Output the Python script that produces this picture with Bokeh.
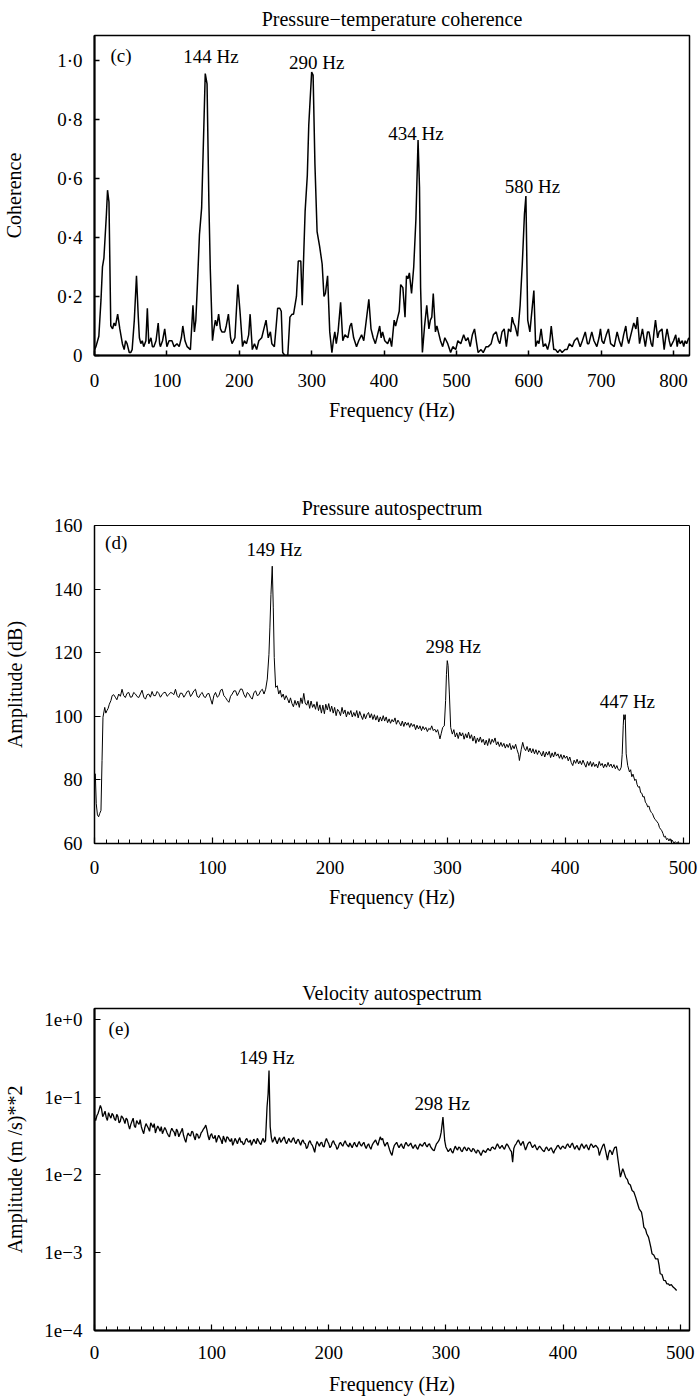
import numpy as np
from bokeh.plotting import figure
from bokeh.layouts import column
from bokeh.models import FixedTicker, CustomJSTickFormatter, Range1d
from bokeh.core.properties import value
from bokeh.embed import file_html
from bokeh.resources import INLINE

FONT = "Liberation Serif"

# ---------------- (c) Pressure-temperature coherence ----------------
coh_freq = [0, 2, 6, 9, 11, 13, 16.5, 18, 20, 22.5, 25, 27, 29, 32, 35, 38.5, 41, 43, 45, 48, 50, 52,
            55, 58, 60.5, 62, 64, 66, 68, 71, 73, 75, 78, 80, 82, 85, 88, 90, 91, 94, 97, 100, 103,
            107, 110, 114, 117, 120, 122, 125, 128, 132.5, 136, 138, 140, 142, 145, 148, 151, 153,
            155.5, 158, 160, 163, 165, 167, 169, 171.5, 174, 176, 180, 182, 185, 188, 190, 194, 198,
            201, 204.5, 207, 210, 213, 215, 218, 221, 224, 227, 231, 234, 237, 240, 243, 245, 248.5,
            251, 253, 256, 258, 260, 263, 267, 270, 273, 275, 279, 281.5, 285, 287, 288.5, 291, 294,
            296, 300, 302, 304.5, 307.5, 311, 314.5, 317, 319, 322, 325, 328, 330, 332, 334, 336.5,
            340, 343, 346, 350, 353, 355, 358, 362, 365, 369, 372, 375.5, 379, 382, 385, 388, 391,
            394, 396, 398, 401, 405, 408, 410.5, 414, 416, 419, 421, 423, 426, 429, 431, 433, 435,
            438, 441, 444, 447, 449, 450.5, 453, 456, 459, 462, 464, 466, 468, 471, 473, 475, 478,
            481, 484, 488, 492, 495, 499, 502, 506, 510, 513, 516, 519, 522, 525, 528, 530, 534,
            537, 541, 544, 548, 551, 555, 558, 560, 563, 566, 569, 572, 575, 577, 579, 581, 584.5,
            588, 591, 594, 596, 598.5, 601.5, 605, 607, 609.5, 612, 614, 617, 620, 623, 626, 629,
            631, 634.5, 637, 640, 643, 646, 650, 653, 656, 660, 663, 667, 671, 674, 678, 681, 683,
            687, 690, 694, 697, 699, 701, 703.5, 707, 710, 713, 718, 722, 725, 728, 731, 734, 736,
            738, 742, 745, 748, 750, 753, 757, 759, 761, 764, 766, 769, 771, 773, 775, 778, 780,
            784, 787, 789, 791, 794, 796, 800, 803, 805, 807, 809, 812, 814, 816, 818, 821]
coh_vals = [0.02, 0.03, 0.065, 0.19, 0.30, 0.33, 0.48, 0.56, 0.52, 0.10, 0.09, 0.11, 0.10, 0.14, 0.09,
            0.04, 0.02, 0.05, 0.04, 0.01, 0.01, 0.02, 0.12, 0.27, 0.13, 0.06, 0.04, 0.05, 0.03, 0.05,
            0.16, 0.04, 0.06, 0.03, 0.03, 0.05, 0.11, 0.04, 0.03, 0.05, 0.09, 0.03, 0.05, 0.05, 0.03,
            0.04, 0.03, 0.06, 0.10, 0.05, 0.03, 0.02, 0.17, 0.08, 0.12, 0.23, 0.41, 0.50, 0.77, 0.955,
            0.92, 0.52, 0.29, 0.05, 0.09, 0.12, 0.10, 0.14, 0.09, 0.08, 0.08, 0.10, 0.14, 0.06, 0.04,
            0.06, 0.24, 0.15, 0.03, 0.05, 0.04, 0.07, 0.14, 0.02, 0.04, 0.02, 0.05, 0.06, 0.09, 0.12,
            0.06, 0.08, 0.04, 0.03, 0.10, 0.16, 0.16, 0.15, 0.01, 0.0, 0.0, 0.13, 0.14, 0.14, 0.20,
            0.32, 0.32, 0.17, 0.30, 0.49, 0.61, 0.78, 0.96, 0.95, 0.65, 0.42, 0.37, 0.31, 0.20, 0.21,
            0.27, 0.08, 0.01, 0.05, 0.08, 0.04, 0.08, 0.18, 0.05, 0.07, 0.06, 0.10, 0.11, 0.06, 0.03,
            0.05, 0.07, 0.05, 0.12, 0.19, 0.09, 0.06, 0.04, 0.07, 0.10, 0.06, 0.08, 0.05, 0.04, 0.06,
            0.03, 0.12, 0.10, 0.13, 0.15, 0.24, 0.23, 0.13, 0.27, 0.26, 0.28, 0.21, 0.30, 0.46, 0.73,
            0.57, 0.23, 0.01, 0.10, 0.17, 0.09, 0.12, 0.13, 0.21, 0.08, 0.10, 0.08, 0.05, 0.03, 0.06,
            0.04, 0.01, 0.03, 0.02, 0.05, 0.04, 0.07, 0.05, 0.06, 0.03, 0.07, 0.09, 0.04, 0.01, 0.02,
            0.01, 0.03, 0.03, 0.04, 0.07, 0.08, 0.05, 0.04, 0.08, 0.09, 0.03, 0.09, 0.08, 0.13, 0.11,
            0.10, 0.065, 0.17, 0.31, 0.48, 0.54, 0.12, 0.08, 0.17, 0.22, 0.03, 0.05, 0.04, 0.09, 0.03,
            0.04, 0.02, 0.05, 0.10, 0.02, 0.02, 0.01, 0.02, 0.01, 0.02, 0.02, 0.04, 0.03, 0.05, 0.06,
            0.03, 0.05, 0.08, 0.04, 0.04, 0.08, 0.05, 0.03, 0.06, 0.09, 0.05, 0.04, 0.07, 0.09, 0.04,
            0.03, 0.08, 0.05, 0.03, 0.07, 0.10, 0.06, 0.04, 0.08, 0.11, 0.09, 0.13, 0.04, 0.09, 0.06,
            0.03, 0.08, 0.08, 0.04, 0.03, 0.08, 0.12, 0.06, 0.08, 0.09, 0.02, 0.06, 0.09, 0.05, 0.03,
            0.05, 0.07, 0.03, 0.06, 0.04, 0.05, 0.03, 0.05, 0.04, 0.06]
coh_ticks_x = [0, 100, 200, 300, 400, 500, 600, 700, 800]
coh_ticks_y = [0, 0.2, 0.4, 0.6, 0.8, 1.0]
coh_ann_text = ["144 Hz", "290 Hz", "434 Hz", "580 Hz"]
coh_ann_x = [161, 307, 444, 605]
coh_ann_y = [1.013, 0.993, 0.752, 0.572]

# ---------------- (d) Pressure autospectrum: (frequency Hz, amplitude dB) ----------------
pr_points = [
    (0, 82.0), (0.7, 81.9), (1.5, 72.5), (2.5, 69.0), (3.5, 68.4), (4.5, 69.5), (5.5, 70.4),
    (6.4, 86.1), (7.2, 99.7), (8.7, 102.8), (9.6, 101.0), (10.6, 101.8), (11.6, 102.5),
    (12.6, 103.8), (14, 105.0), (15, 106.5), (16.3, 106.8), (17.7, 106.0), (19, 105.2),
    (20.6, 107.0), (22, 106.3), (23.4, 108.5), (24.8, 106.5), (26.2, 105.9), (27.6, 107.2),
    (29.1, 107.5), (30.5, 106.0), (31.9, 106.1), (33.3, 107.5), (34.8, 107.0), (36.2, 106.2),
    (37.6, 105.9), (39, 107.0), (40.4, 108.2), (41.9, 106.0), (43.3, 105.4), (44.7, 106.8),
    (46.1, 107.0), (47.5, 106.0), (48.9, 107.8), (50.3, 106.5), (51.8, 106.5), (53.2, 107.8),
    (54.6, 107.2), (56, 106.0), (57.4, 106.8), (58.9, 107.5), (60.3, 107.5), (61.7, 106.3),
    (63.1, 106.8), (64.6, 107.5), (66.0, 107.3), (67.4, 106.8), (68.8, 108.5), (70.2, 106.5),
    (71.6, 105.9), (73, 107.3), (74.5, 107.2), (75.9, 106.0), (77.3, 106.8), (78.7, 107.8),
    (80.1, 108.0), (81.6, 106.2), (83.0, 107.0), (84.4, 108.0), (85.8, 108.5), (87.2, 106.3),
    (88.7, 105.9), (90.1, 107.0), (91.5, 107.5), (92.9, 106.2), (94.3, 105.9), (95.7, 107.0),
    (97.2, 107.2), (98.6, 105.5), (100, 103.8), (101.4, 106.5), (102.8, 107.5), (104.3, 106.0),
    (105.7, 106.5), (107.1, 108.2), (108.5, 108.5), (109.9, 106.5), (111.3, 105.9),
    (112.8, 105.0), (114.2, 104.4), (115.6, 106.3), (117, 107.0), (118.4, 108.0), (119.9, 108.0),
    (121.3, 106.5), (122.7, 107.5), (124.1, 108.6), (125.5, 108.5), (127, 106.8), (128.4, 105.9),
    (129.8, 107.5), (131.2, 107.0), (132.6, 106.0), (134, 105.4), (135.5, 107.5), (136.9, 108.0),
    (138.3, 106.5), (139.7, 106.8), (141.1, 108.0), (142.6, 108.5), (144, 107.0), (145.4, 108.5),
    (146.8, 111.7), (148.2, 119.5), (149.0, 127.8), (149.9, 138.3), (151.0, 147.2),
    (151.9, 134.1), (152.7, 118.5), (153.9, 109.1), (155.3, 109.6), (156.5, 107.0),
    (157.8, 108.2), (159, 106.0), (160.3, 107.0), (161.5, 105.2), (162.8, 106.5), (164, 105.5),
    (165.3, 104.2), (166.5, 105.8), (167.8, 104.0), (169, 103.0), (170.3, 105.0), (171.5, 103.5),
    (172.8, 104.8), (174, 102.8), (175.3, 105.8), (176.5, 104.0), (177.8, 107.2), (179, 104.2),
    (180.3, 103.5), (181.5, 105.0), (182.8, 102.5), (184, 104.8), (185.3, 102.8), (186.5, 103.8),
    (187.8, 102.2), (189, 104.6), (190.3, 101.8), (191.5, 103.6), (192.8, 101.0), (194, 103.5),
    (195.3, 100.8), (196.5, 103.8), (197.8, 102.0), (199, 104.0), (200.3, 101.5), (201.5, 103.2),
    (202.8, 101.0), (204, 102.8), (205.3, 100.2), (206.5, 102.2), (207.8, 101.5), (209, 100.2),
    (210.3, 102.8), (211.5, 100.8), (212.8, 102.0), (214, 99.8), (215.3, 101.5), (216.5, 100.5),
    (217.8, 101.8), (219, 99.8), (220.3, 101.2), (221.5, 100.0), (222.8, 101.8), (224, 99.5),
    (225.3, 101.5), (226.5, 100.2), (227.8, 99.0), (229, 100.8), (230.3, 99.2), (231.5, 100.5),
    (232.8, 101.2), (234, 99.5), (235.3, 100.8), (236.5, 99.0), (237.8, 100.5), (239, 98.8),
    (240.3, 100.2), (241.5, 98.2), (242.8, 99.8), (244, 98.5), (245.3, 100.2), (246.5, 98.5),
    (247.8, 99.8), (249, 98.0), (250.3, 99.2), (251.5, 97.8), (252.8, 99.0), (254, 98.2),
    (255.3, 99.5), (256.5, 97.5), (257.8, 98.8), (259, 98.0), (260.3, 97.0), (261.5, 98.5),
    (262.8, 96.8), (264, 98.2), (265.3, 97.2), (266.5, 98.0), (267.8, 96.5), (269, 97.8),
    (270.3, 96.8), (271.5, 97.5), (272.8, 95.8), (274, 97.2), (275.3, 96.0), (276.5, 97.0),
    (277.8, 95.5), (279, 96.8), (280.3, 95.8), (281.5, 96.5), (282.8, 95.2), (284, 96.2),
    (285.3, 95.8), (286.5, 97.0), (287.8, 95.5), (289, 96.0), (290.3, 95.0), (291.5, 95.8),
    (292.8, 94.0), (293.5, 92.9), (294.5, 94.5), (295.8, 96.5), (297.2, 97.0), (298.3, 105.0),
    (299.0, 113.2), (299.7, 117.5), (300.4, 116.0), (301.5, 107.0), (302.6, 96.5), (304, 94.4),
    (305.3, 95.8), (306.5, 93.5), (307.8, 94.8), (309, 93.0), (310.3, 95.0), (311.5, 93.8),
    (312.8, 94.8), (314, 92.8), (315.3, 94.5), (316.5, 93.2), (317.8, 95.0), (319, 93.0),
    (320.3, 94.2), (321.5, 92.2), (322.8, 93.8), (324, 91.5), (325.3, 93.2), (326.5, 92.0),
    (327.8, 93.5), (329, 91.8), (330.3, 92.8), (331.5, 91.0), (332.8, 92.5), (334, 90.8),
    (335.3, 93.0), (336.5, 91.2), (337.8, 92.8), (339, 91.8), (340.3, 93.2), (341.5, 91.0),
    (342.8, 92.0), (344, 90.5), (345.3, 91.8), (346.5, 90.5), (347.8, 91.5), (349, 90.0),
    (350.3, 91.2), (351.5, 90.2), (352.8, 91.5), (354, 89.5), (355.3, 90.8), (356.5, 89.8),
    (357.8, 91.2), (359, 89.5), (360.3, 88.0), (361, 86.1), (362.5, 89.5), (363.8, 91.8),
    (365, 90.0), (366.3, 89.2), (367.5, 90.5), (368.8, 88.8), (370, 90.0), (371.3, 88.5),
    (372.5, 89.8), (373.8, 88.2), (375, 89.5), (376.3, 88.0), (377.5, 89.2), (378.8, 88.5),
    (380, 87.5), (381.3, 89.0), (382.5, 87.2), (383.8, 88.8), (385, 87.8), (386.3, 89.0),
    (387.5, 87.0), (388.8, 88.5), (390, 87.2), (391.3, 88.8), (392.5, 87.5), (393.8, 88.2),
    (395, 86.8), (396.3, 88.0), (397.5, 86.5), (398.8, 87.8), (400, 86.8), (401.3, 87.5),
    (402.5, 86.0), (403.8, 87.2), (405, 85.5), (406.3, 84.5), (407.5, 86.2), (408.8, 85.2),
    (410, 86.5), (411.3, 85.0), (412.5, 86.0), (413.8, 84.8), (415, 86.2), (416.3, 85.0),
    (417.5, 84.0), (418.8, 85.8), (420, 84.5), (421.3, 85.8), (422.5, 84.2), (423.8, 85.5),
    (425, 84.2), (426.3, 85.0), (427.5, 83.8), (428.8, 85.8), (430, 84.5), (431.3, 85.2),
    (432.5, 83.8), (433.8, 85.0), (435, 84.0), (436.3, 85.5), (437.5, 84.2), (438.8, 85.0),
    (440, 83.8), (441.3, 84.8), (442.5, 83.5), (443.8, 84.5), (445, 83.2), (446.3, 83.0),
    (447.5, 84.0), (448.3, 88.0), (449.2, 97.0), (449.7, 100.5), (450.4, 99.0), (450.9, 100.5),
    (451.7, 88.2), (453, 84.5), (454.5, 82.5), (455.5, 83.2), (456.5, 81.0), (457.5, 81.8),
    (459, 79.8), (460, 80.2), (461, 78.5), (462, 77.7), (463, 77.9), (464, 76.0), (465, 75.8),
    (466, 74.6), (467, 74.8), (468, 73.0), (469, 72.5), (470, 71.5), (471, 71.8), (472, 70.5),
    (473, 69.8), (474, 69.4), (475.5, 68.0), (476.5, 67.5), (478, 66.8), (479, 66.3),
    (480, 65.0), (481, 64.5), (482, 64.0), (483, 63.1), (484, 62.0), (485, 62.3), (486, 61.2),
    (487, 61.6), (488, 60.8), (489, 61.5), (490, 60.6), (491, 61.0), (492, 60.2), (493.5, 60.5),
    (495, 60.0), (496, 60.6), (497, 59.8), (498, 60.2), (499, 59.5), (500, 60.0), (501, 59.5),
    (502, 59.8), (503, 59.4), (504, 59.8)]
pr_freq = [f for f, _ in pr_points]
pr_db = [v for _, v in pr_points]
pr_ticks_x = [0, 100, 200, 300, 400, 500]
pr_minor_x = list(range(0, 510, 10))
pr_ticks_y = [60, 80, 100, 120, 140, 160]
pr_ann_text = ["149 Hz", "298 Hz", "447 Hz"]
pr_ann_x = [152.7, 304.8, 452.7]
pr_ann_y = [152.5, 122.1, 104.8]

# ---------------- (e) Velocity autospectrum: (frequency Hz, log10 amplitude) ----------------
ve_points = [
    (0, -1.27), (1, -1.30), (2, -1.24), (3, -1.21), (4, -1.16), (5, -1.106), (6, -1.15),
    (7, -1.25), (8, -1.22), (9, -1.18), (10, -1.26), (11, -1.30), (12, -1.20), (13, -1.24),
    (14, -1.27), (15, -1.21), (16, -1.23), (17, -1.28), (18, -1.30), (19, -1.22), (20, -1.25),
    (21, -1.33), (22, -1.31), (23, -1.24), (24, -1.26), (25, -1.29), (26, -1.34), (27, -1.27),
    (28, -1.29), (29, -1.36), (30, -1.41), (31, -1.35), (32, -1.31), (33, -1.27), (34, -1.37),
    (35, -1.39), (36, -1.30), (37, -1.33), (38, -1.35), (39, -1.29), (40, -1.38), (41, -1.43),
    (42, -1.47), (43, -1.39), (44, -1.34), (45, -1.37), (46, -1.40), (47, -1.44), (48, -1.33),
    (49, -1.36), (50, -1.39), (51, -1.34), (52, -1.46), (53, -1.41), (54, -1.37), (55, -1.40),
    (56, -1.44), (57, -1.38), (58, -1.47), (59, -1.43), (60, -1.39), (61, -1.42), (62, -1.46),
    (63, -1.49), (64, -1.51), (65, -1.44), (66, -1.40), (67, -1.43), (68, -1.45), (69, -1.50),
    (70, -1.41), (71, -1.44), (72, -1.51), (73, -1.47), (74, -1.44), (75, -1.40), (76, -1.49),
    (77, -1.54), (78, -1.58), (79, -1.50), (80, -1.46), (81, -1.49), (82, -1.50), (83, -1.44),
    (84, -1.45), (85, -1.51), (86, -1.55), (87, -1.47), (88, -1.48), (89, -1.53), (90, -1.51),
    (91, -1.46), (92, -1.44), (93, -1.41), (94, -1.39), (95, -1.36), (96, -1.42), (97, -1.50),
    (98, -1.55), (99, -1.49), (100, -1.47), (101, -1.52), (102, -1.53), (103, -1.49),
    (104, -1.58), (105, -1.53), (106, -1.49), (107, -1.52), (108, -1.55), (109, -1.60),
    (110, -1.50), (111, -1.54), (112, -1.58), (113, -1.51), (114, -1.52), (115, -1.55),
    (116, -1.57), (117, -1.53), (118, -1.62), (119, -1.58), (120, -1.53), (121, -1.56),
    (122, -1.60), (123, -1.55), (124, -1.52), (125, -1.58), (126, -1.57), (127, -1.61),
    (128, -1.60), (129, -1.55), (130, -1.53), (131, -1.57), (132, -1.58), (133, -1.55),
    (134, -1.62), (135, -1.58), (136, -1.54), (137, -1.57), (138, -1.60), (139, -1.53),
    (140, -1.56), (141, -1.59), (142, -1.61), (143, -1.56), (144, -1.53), (145, -1.58),
    (146, -1.56), (147.3, -1.13), (148.2, -0.96), (149, -0.656), (150, -1.38), (151, -1.52),
    (152, -1.58), (153, -1.55), (154, -1.51), (155, -1.56), (156, -1.60), (157, -1.55),
    (158, -1.52), (159, -1.58), (160, -1.56), (161, -1.53), (162, -1.51), (163, -1.57),
    (164, -1.60), (165, -1.56), (166, -1.53), (167, -1.57), (168, -1.58), (169, -1.54),
    (170, -1.52), (171, -1.57), (172, -1.60), (173, -1.56), (174, -1.54), (175, -1.58),
    (176, -1.62), (177, -1.57), (178, -1.55), (179, -1.59), (180, -1.60), (181, -1.66),
    (182, -1.64), (183, -1.58), (184, -1.56), (185, -1.60), (186, -1.62), (187, -1.66),
    (188, -1.71), (189, -1.62), (190, -1.57), (191, -1.60), (192, -1.63), (193, -1.59),
    (194, -1.58), (195, -1.63), (196, -1.64), (197, -1.57), (198, -1.53), (199, -1.57),
    (200, -1.60), (201, -1.65), (202, -1.63), (203, -1.58), (204, -1.56), (205, -1.60),
    (206, -1.62), (207, -1.67), (208, -1.65), (209, -1.60), (210, -1.58), (211, -1.61),
    (212, -1.63), (213, -1.59), (214, -1.56), (215, -1.60), (216, -1.62), (217, -1.64),
    (218, -1.59), (219, -1.62), (220, -1.65), (221, -1.61), (222, -1.58), (223, -1.62),
    (224, -1.64), (225, -1.60), (226, -1.57), (227, -1.61), (228, -1.63), (229, -1.60),
    (230, -1.58), (231, -1.63), (232, -1.66), (233, -1.62), (234, -1.60), (235, -1.64),
    (236, -1.67), (237, -1.62), (238, -1.59), (239, -1.57), (240, -1.55), (241, -1.59),
    (242, -1.62), (243, -1.56), (244, -1.51), (245, -1.55), (246, -1.53), (247, -1.59),
    (248, -1.63), (249, -1.60), (250, -1.58), (251, -1.63), (252, -1.68), (253, -1.72),
    (254, -1.75), (255, -1.67), (256, -1.62), (257, -1.60), (258, -1.58), (259, -1.62),
    (260, -1.65), (261, -1.62), (262, -1.60), (263, -1.64), (264, -1.66), (265, -1.61),
    (266, -1.58), (267, -1.61), (268, -1.63), (269, -1.61), (270, -1.59), (271, -1.63),
    (272, -1.66), (273, -1.63), (274, -1.61), (275, -1.65), (276, -1.67), (277, -1.63),
    (278, -1.60), (279, -1.62), (280, -1.63), (281, -1.60), (282, -1.58), (283, -1.62),
    (284, -1.64), (285, -1.61), (286, -1.60), (287, -1.64), (288, -1.66), (289, -1.68),
    (290, -1.69), (291, -1.64), (292, -1.60), (293, -1.58), (294, -1.56), (295, -1.52),
    (296, -1.45), (297.5, -1.256), (299, -1.56), (300, -1.64), (301, -1.67), (302, -1.70),
    (303, -1.68), (304, -1.66), (305, -1.70), (306, -1.72), (307, -1.67), (308, -1.63),
    (309, -1.66), (310, -1.68), (311, -1.64), (312, -1.65), (313, -1.69), (314, -1.70),
    (315, -1.66), (316, -1.64), (317, -1.67), (318, -1.69), (319, -1.65), (320, -1.66),
    (321, -1.69), (322, -1.70), (323, -1.66), (324, -1.67), (325, -1.70), (326, -1.72),
    (327, -1.68), (328, -1.69), (329, -1.72), (330, -1.75), (331, -1.71), (332, -1.68),
    (333, -1.70), (334, -1.71), (335, -1.68), (336, -1.66), (337, -1.68), (338, -1.69),
    (339, -1.65), (340, -1.64), (341, -1.66), (342, -1.67), (343, -1.63), (344, -1.60),
    (345, -1.63), (346, -1.66), (347, -1.64), (348, -1.62), (349, -1.65), (350, -1.67),
    (351, -1.63), (352, -1.60), (353, -1.62), (354, -1.65), (355, -1.68), (356, -1.70),
    (357, -1.835), (358, -1.66), (359, -1.62), (360, -1.60), (361, -1.57), (362, -1.55),
    (363, -1.59), (364, -1.62), (365, -1.59), (366, -1.57), (367, -1.63), (368, -1.68),
    (369, -1.64), (370, -1.60), (371, -1.58), (372, -1.58), (373, -1.62), (374, -1.65),
    (375, -1.63), (376, -1.61), (377, -1.65), (378, -1.68), (379, -1.65), (380, -1.63),
    (381, -1.65), (382, -1.67), (383, -1.69), (384, -1.70), (385, -1.66), (386, -1.64),
    (387, -1.67), (388, -1.69), (389, -1.66), (390, -1.65), (391, -1.69), (392, -1.72),
    (393, -1.68), (394, -1.66), (395, -1.63), (396, -1.62), (397, -1.65), (398, -1.67),
    (399, -1.64), (400, -1.63), (401, -1.65), (402, -1.66), (403, -1.62), (404, -1.60),
    (405, -1.63), (406, -1.65), (407, -1.61), (408, -1.59), (409, -1.63), (410, -1.67),
    (411, -1.64), (412, -1.62), (413, -1.66), (414, -1.68), (415, -1.63), (416, -1.60),
    (417, -1.63), (418, -1.66), (419, -1.63), (420, -1.61), (421, -1.65), (422, -1.68),
    (423, -1.63), (424, -1.60), (425, -1.62), (426, -1.65), (427, -1.63), (428, -1.62),
    (429, -1.64), (430, -1.66), (431, -1.75), (432, -1.70), (433, -1.66), (434, -1.62),
    (435, -1.60), (436.5, -1.70), (438, -1.81), (439, -1.72), (440, -1.68), (441, -1.70),
    (442, -1.74), (443, -1.69), (444, -1.65), (445.5, -1.64), (447, -1.81), (449, -2.027),
    (451, -1.920), (452, -1.96), (453.5, -2.03), (455, -2.06), (456, -2.11), (457.5, -2.13),
    (459, -2.20), (460.5, -2.22), (462, -2.285), (463.5, -2.36), (465, -2.435), (467, -2.478),
    (468, -2.56), (469, -2.67), (470.5, -2.70), (471.5, -2.756), (473, -2.80), (474, -2.863),
    (475, -2.93), (476, -3.013), (477.5, -3.03), (479, -3.078), (481, -3.08), (482, -3.16),
    (483, -3.27), (484.5, -3.28), (486, -3.356), (487.5, -3.36), (488.6, -3.399), (490, -3.40),
    (491, -3.42), (492.5, -3.41), (494, -3.442), (495.5, -3.46), (497, -3.485)]
ve_freq = [f for f, _ in ve_points]
ve_log10 = [v for _, v in ve_points]
ve_ticks_x = [0, 100, 200, 300, 400, 500]
ve_minor_x = list(range(0, 510, 10))
ve_ticks_y = [1e-4, 1e-3, 1e-2, 1e-1, 1e0]
ve_ann_text = ["149 Hz", "298 Hz"]
ve_ann_x = [147, 296.8]
ve_ann_log10 = [-0.485, -1.084]


def base_style(p, title_standoff):
    p.title.text_font = FONT
    p.title.text_font_size = "20px"
    p.title.text_font_style = "normal"
    p.title.text_color = "black"
    p.title.align = "center"
    p.title.standoff = title_standoff
    p.outline_line_color = "black"
    p.xgrid.visible = False
    p.ygrid.visible = False
    p.background_fill_color = "white"
    p.border_fill_color = "white"
    for ax in (p.xaxis[0], p.yaxis[0]):
        ax.axis_line_color = "black"
        ax.major_tick_line_color = "black"
        ax.minor_tick_line_color = "black"
        ax.major_tick_out = 0
        ax.minor_tick_out = 0
        ax.major_label_text_font = FONT
        ax.major_label_text_font_size = "19px"
        ax.major_label_text_color = "black"
        ax.axis_label_text_font = FONT
        ax.axis_label_text_font_size = "20px"
        ax.axis_label_text_font_style = "normal"
        ax.axis_label_text_color = "black"


def add_text(p, xs, ys, texts, align="center"):
    p.text(x=xs, y=ys, text=texts, text_font=value(FONT), text_font_size="19px",
           text_align=align, text_baseline="middle", text_color="black")


# ---- panel c ----
p1 = figure(width=700, height=485, output_backend="svg", toolbar_location=None,
            title="Pressure\u2212temperature coherence",
            x_range=Range1d(0, 822), y_range=Range1d(0, 1.084),
            min_border_left=92, min_border_right=10, min_border_top=33, min_border_bottom=130)
base_style(p1, 11)
p1.outline_line_width = 1.5
p1.xaxis.axis_label = "Frequency (Hz)"
p1.yaxis.axis_label = "Coherence"
p1.xaxis.ticker = FixedTicker(ticks=coh_ticks_x, minor_ticks=[])
p1.yaxis.ticker = FixedTicker(ticks=coh_ticks_y, minor_ticks=[])
p1.yaxis.formatter = CustomJSTickFormatter(
    code="return Math.abs(tick) < 1e-9 ? '0' : tick.toFixed(1).replace('.', '\u00b7');")
for ax in (p1.xaxis[0], p1.yaxis[0]):
    ax.axis_line_width = 2
    ax.major_tick_in = 5
    ax.major_tick_line_width = 1.5
p1.xaxis.major_label_standoff = 18
p1.xaxis.axis_label_standoff = 9
p1.yaxis.major_label_standoff = 12
p1.yaxis.axis_label_standoff = 29
p1.line(coh_freq, coh_vals, line_color="black", line_width=1.5)
add_text(p1, coh_ann_x, coh_ann_y, coh_ann_text)
add_text(p1, [22], [1.017], ["(c)"], align="left")

# ---- panel d ----
p2 = figure(width=700, height=485, output_backend="svg", toolbar_location=None,
            title="Pressure autospectrum",
            x_range=Range1d(0, 505.5), y_range=Range1d(60, 160),
            min_border_left=92, min_border_right=11, min_border_top=40, min_border_bottom=127)
base_style(p2, 13)
p2.outline_line_width = 1
p2.xaxis.axis_label = "Frequency (Hz)"
p2.yaxis.axis_label = "Amplitude (dB)"
p2.xaxis.ticker = FixedTicker(ticks=pr_ticks_x, minor_ticks=pr_minor_x)
p2.yaxis.ticker = FixedTicker(ticks=pr_ticks_y, minor_ticks=[])
for ax in (p2.xaxis[0], p2.yaxis[0]):
    ax.axis_line_width = 1.5
    ax.major_tick_in = 6
    ax.minor_tick_in = 4
    ax.major_tick_line_width = 1.2
p2.xaxis.major_label_standoff = 17
p2.xaxis.axis_label_standoff = 9
p2.yaxis.major_label_standoff = 12
p2.yaxis.axis_label_standoff = 25
p2.line(pr_freq, pr_db, line_color="black", line_width=1)
add_text(p2, pr_ann_x, pr_ann_y, pr_ann_text)
add_text(p2, [9], [154.8], ["(d)"], align="left")

# ---- panel e ----
ve_vals = (10.0 ** np.array(ve_log10)).tolist()
ve_ann_y = (10.0 ** np.array(ve_ann_log10)).tolist()
p3 = figure(width=700, height=427, output_backend="svg", toolbar_location=None,
            title="Velocity autospectrum", y_axis_type="log",
            x_range=Range1d(0, 508), y_range=Range1d(1e-4, 1.38),
            min_border_left=92, min_border_right=11, min_border_top=38, min_border_bottom=66)
base_style(p3, 9)
p3.outline_line_width = 1.5
p3.xaxis.axis_label = "Frequency (Hz)"
p3.yaxis.axis_label = "Amplitude (m /s)**2"
p3.xaxis.ticker = FixedTicker(ticks=ve_ticks_x, minor_ticks=ve_minor_x)
p3.yaxis.ticker = FixedTicker(ticks=ve_ticks_y, minor_ticks=[])
p3.yaxis.formatter = CustomJSTickFormatter(
    code="const e = Math.round(Math.log10(tick)); return '1e' + (e < 0 ? '\u2212' : '+') + Math.abs(e);")
for ax in (p3.xaxis[0], p3.yaxis[0]):
    ax.axis_line_width = 2
    ax.major_tick_in = 6
    ax.minor_tick_in = 4
    ax.major_tick_line_width = 1.2
p3.xaxis.major_label_standoff = 15
p3.xaxis.axis_label_standoff = 11
p3.yaxis.major_label_standoff = 12
p3.yaxis.axis_label_standoff = 15
p3.line(ve_freq, ve_vals, line_color="black", line_width=1.3)
add_text(p3, ve_ann_x, ve_ann_y, ve_ann_text)
add_text(p3, [12], [10 ** -0.116], ["(e)"], align="left")

layout = column(p1, p2, p3, spacing=0)
open("out.html", "w").write(file_html(layout, INLINE))
